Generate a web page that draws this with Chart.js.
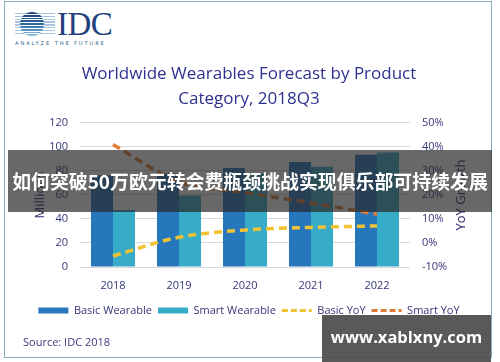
<!DOCTYPE html>
<html lang="en">
<head>
<meta charset="UTF-8">
<title>Worldwide Wearables Forecast</title>
<script src="https://cdn.jsdelivr.net/npm/chart.js@4"></script>
<style>
  html, body { margin: 0; padding: 0; background: #fff; }
  #wrap { position: relative; width: 500px; height: 362px; overflow: hidden; font-family: "Open Sans", sans-serif; }
  #frame { position: absolute; left: 4px; top: 1px; width: 486px; height: 355px; border: 1.5px solid #8aabbb; }
  #chart { position: absolute; left: 0; top: 0; }
  .logo-globe { position: absolute; left: 15px; top: 13px; width: 40px; height: 22px;
    background: repeating-linear-gradient(to bottom, #a9c4dc 0px, #a9c4dc 1.4px, transparent 1.4px, transparent 2.8px); }
  .logo-ball { position: absolute; left: 20px; top: 12px; width: 24px; height: 24px; border-radius: 50%;
    background: repeating-linear-gradient(to bottom, rgba(255,255,255,0) 0px, rgba(255,255,255,0) 1.8px, #fff 1.8px, #fff 2.8px),
                linear-gradient(to bottom, #1b3a78, #2f6ea6 55%, #8fc0e2); }
  .logo-text { position: absolute; left: 57px; top: 6px; font-family: "Liberation Serif", serif; font-size: 33px; color: #213f7c; letter-spacing: -0.5px; }
  .logo-tag { position: absolute; left: 15px; top: 40px; font-family: "DejaVu Sans", sans-serif; font-size: 5.2px; letter-spacing: 1.85px; color: #2a5f8c; }
  #source { position: absolute; left: 23px; top: 334px; font-size: 11px; color: #3b3b7c; }
  #banner { position: absolute; left: 8px; top: 150px; width: 484px; height: 62px; background: rgba(40,40,40,0.7);
    color: #fff; font-family: "Noto Sans CJK SC", sans-serif; font-weight: bold; font-size: 18.9px; line-height: 62px; text-align: center; white-space: nowrap; }
  #mark { position: absolute; left: 322px; top: 315px; width: 169px; height: 47px; background: rgba(75,75,75,0.92);
    color: #fff; font-family: "Open Sans", sans-serif; font-weight: bold; font-size: 16.5px; line-height: 44px; text-align: center; }
</style>
</head>
<body>
<div id="wrap">
  <div id="frame"></div>
  <div class="logo-globe"></div>
  <div class="logo-ball"></div>
  <div class="logo-text">IDC</div>
  <div class="logo-tag">ANALYZE THE FUTURE</div>
  <canvas id="chart" width="500" height="362"></canvas>
  <div id="source">Source: IDC 2018</div>
  <div id="banner">如何突破50万欧元转会费瓶颈挑战实现俱乐部可持续发展</div>
  <div id="mark">www.xablxny.com</div>
</div>
<script>
// values
const years = ['2018', '2019', '2020', '2021', '2022'];
const basicWearable = [76.5, 78, 82.5, 87.5, 93.5];   // millions
const smartWearable = [47.5, 59.5, 78, 83.5, 95.5];   // millions
const basicYoY = [-5.4, 2.4, 5.4, 6.5, 7.1];          // %
const smartYoY = [41, 25.5, 21, 16.7, 12];            // %

const ink = '#35357a';
const fontName = '"Open Sans", sans-serif';

// right axis title reads bottom-to-top, so draw it by hand
const rightTitle = {
    id: 'rightTitle',
    afterDraw(chart) {
        const ctx = chart.ctx;
        const area = chart.chartArea;
        ctx.save();
        ctx.translate(461, (area.top + area.bottom) / 2);
        ctx.rotate(-Math.PI / 2);
        ctx.font = '13px ' + fontName;
        ctx.fillStyle = '#2d2d6b';
        ctx.textAlign = 'center';
        ctx.textBaseline = 'middle';
        ctx.fillText('YoY Growth', 0, 0);
        ctx.restore();
    }
};

function legendLabels(chart) {
    const items = Chart.defaults.plugins.legend.labels.generateLabels(chart);
    items.forEach(item => {
        if (item.pointStyle === 'line') {
            item.lineDash = [6, 3];
            item.lineWidth = 3;
        }
    });
    return items;
}

const ctx = document.getElementById('chart').getContext('2d');
new Chart(ctx, {
    type: 'bar',
    data: {
        labels: years,
        datasets: [
            {
                label: 'Basic Wearable',
                data: basicWearable,
                backgroundColor: '#2777bd',
                yAxisID: 'y',
                order: 2,
                pointStyle: 'rect',
                categoryPercentage: 0.667,
                barPercentage: 1.0
            },
            {
                label: 'Smart Wearable',
                data: smartWearable,
                backgroundColor: '#37acc9',
                yAxisID: 'y',
                order: 2,
                pointStyle: 'rect',
                categoryPercentage: 0.667,
                barPercentage: 1.0
            },
            {
                type: 'line',
                label: 'Basic YoY',
                data: basicYoY,
                borderColor: '#f1c232',
                backgroundColor: '#f1c232',
                borderWidth: 3.5,
                borderDash: [8, 5],
                pointRadius: 0,
                cubicInterpolationMode: 'monotone',
                pointStyle: 'line',
                yAxisID: 'y1',
                order: 1
            },
            {
                type: 'line',
                label: 'Smart YoY',
                data: smartYoY,
                borderColor: '#e07b34',
                backgroundColor: '#e07b34',
                borderWidth: 3.5,
                borderDash: [8, 5],
                pointRadius: 0,
                cubicInterpolationMode: 'monotone',
                pointStyle: 'line',
                yAxisID: 'y1',
                order: 1
            }
        ]
    },
    options: {
        responsive: false,
        animation: false,
        layout: { padding: { left: 26, right: 28, top: 61.5, bottom: 36 } },
        plugins: {
            tooltip: { enabled: false },
            title: {
                display: true,
                text: ['Worldwide Wearables Forecast by Product', 'Category, 2018Q3'],
                color: '#2e3190',
                font: { family: fontName, size: 17, weight: 'normal', lineHeight: 1.47 },
                padding: { top: 0, bottom: 11.5 }
            },
            legend: {
                position: 'bottom',
                labels: {
                    usePointStyle: true,
                    pointStyleWidth: 30,
                    boxHeight: 6,
                    padding: 6,
                    color: ink,
                    font: { family: fontName, size: 11 },
                    generateLabels: legendLabels,
                    sort: (a, b) => a.datasetIndex - b.datasetIndex
                }
            }
        },
        scales: {
            x: {
                grid: { display: false },
                border: { display: false },
                ticks: { color: ink, font: { family: fontName, size: 11 }, padding: 4 },
                afterFit: (s) => { s.height = 32; }
            },
            y: {
                position: 'left',
                min: 0,
                max: 120,
                ticks: { stepSize: 20, color: ink, padding: 12, font: { family: fontName, size: 11 } },
                grid: { color: '#d9d9d9', drawTicks: false },
                border: { display: false },
                title: { display: true, text: 'Millions', color: '#2d2d6b', font: { family: fontName, size: 13 }, padding: { top: 6, bottom: 0 } },
                afterFit: (s) => { s.width = 54; }
            },
            y1: {
                position: 'right',
                min: -10,
                max: 50,
                ticks: { stepSize: 10, color: ink, padding: 12, font: { family: fontName, size: 11 }, callback: (v) => v + '%' },
                grid: { display: false, drawTicks: false },
                border: { display: false },
                afterFit: (s) => { s.width = 62; }
            }
        }
    },
    plugins: [rightTitle]
});
</script>
</body>
</html>
